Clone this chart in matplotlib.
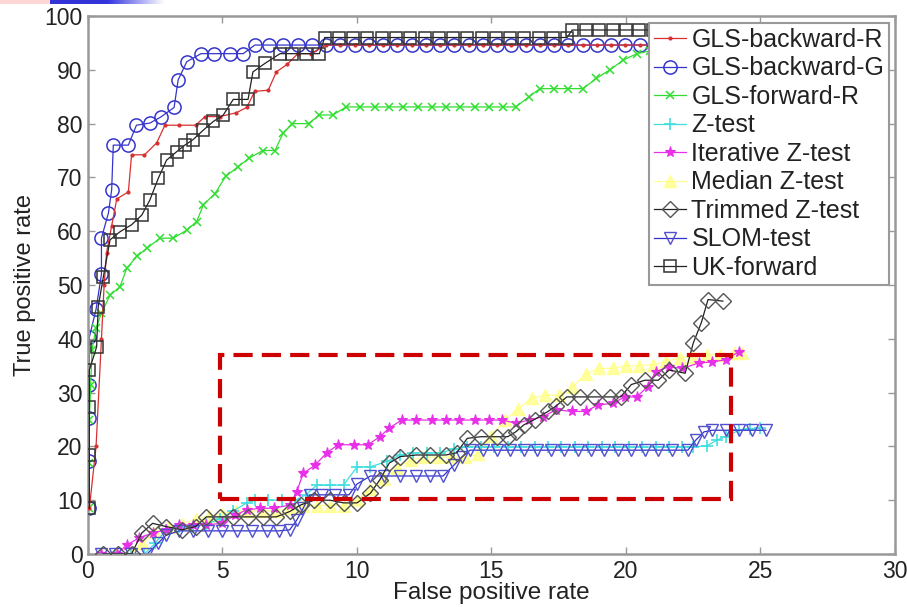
import numpy as np
import matplotlib
matplotlib.use('Agg')
import matplotlib.pyplot as plt
from matplotlib.patches import Rectangle

# ==========================================================
# Data (false / true positive rate, %)
# ==========================================================

gls_back_g_x = [0.02, 0.02, 0.02, 0.05, 0.05, 0.3, 0.5, 0.5, 0.76, 0.88, 0.94,
                1.5, 1.8, 2.3, 2.7, 3.2, 3.35, 3.67, 4.2, 4.7, 5.28, 5.77,
                6.2, 6.73, 7.26, 7.79, 8.32, 8.85, 9.38, 9.91, 10.44, 10.97,
                11.5, 12.03, 12.56, 13.09, 13.62, 14.15, 14.68, 15.21, 15.74,
                16.27, 16.8, 17.33, 17.86, 18.39, 18.92, 19.45, 19.98, 20.51,
                21.04, 21.57, 22.1]
gls_back_g_y = [8.5, 17.2, 25.3, 31.5, 40.3, 45.5, 52, 58.7, 63.4, 67.7, 76,
                76, 79.7, 80.1, 81.2, 83, 88.1, 91.5, 93, 93, 93, 93,
                94.6, 94.6, 94.6, 94.6, 94.6, 94.6, 94.6, 94.6, 94.6, 94.6,
                94.6, 94.6, 94.6, 94.6, 94.6, 94.6, 94.6, 94.6, 94.6,
                94.6, 94.6, 94.6, 94.6, 94.6, 94.6, 94.6, 94.6, 94.6,
                94.6, 94.6, 94.6]

gls_back_r_x = [0.05, 0.3, 0.5, 0.6, 0.69, 0.88, 1.07, 1.5, 1.62, 2.1, 2.55,
                2.86, 3.4, 4.0, 4.35, 4.9, 5.5, 5.9, 6.2, 6.7, 7.0, 7.4, 7.8,
                8.3, 8.85, 9.38, 9.91, 10.44, 10.97, 11.5, 12.03, 12.56,
                13.09, 13.62, 14.15, 14.68, 15.21, 15.74, 16.27, 16.8, 17.33,
                17.86, 18.39, 18.92, 19.45, 19.98, 20.51, 21.04, 21.57, 22.1]
gls_back_r_y = [8.5, 20, 40, 50, 56, 61, 66, 67.3, 74.2, 74.2, 76.4,
                79.7, 79.7, 79.7, 81.3, 81.3, 82, 83, 86, 86.2, 89.6, 91, 93,
                93, 94.6, 94.6, 94.6, 94.6, 94.6, 94.6, 94.6, 94.6,
                94.6, 94.6, 94.6, 94.6, 94.6, 94.6, 94.6, 94.6, 94.6,
                94.6, 94.6, 94.6, 94.6, 94.6, 94.6, 94.6, 94.6, 94.6]

gls_fwd_r_x = [0.02, 0.05, 0.05, 0.1, 0.15, 0.3, 0.5, 0.82, 1.19, 1.44, 1.81,
               2.18, 2.68, 3.17, 3.67, 4.04, 4.29, 4.72, 5.12, 5.58, 6.0, 6.5,
               6.95, 7.25, 7.6, 8.2, 8.6, 9.1, 9.6, 10.13, 10.66, 11.19,
               11.72, 12.25, 12.78, 13.31, 13.84, 14.37, 14.9, 15.43, 15.9,
               16.4, 16.8, 17.33, 17.86, 18.4, 18.9, 19.4, 19.9, 20.4, 20.9,
               21.4, 22.0]
gls_fwd_r_y = [8.5, 17, 25, 31.5, 38, 42, 44.8, 48.1, 49.7, 53.1, 55.3,
               56.8, 58.7, 58.7, 60.2, 61.8, 64.9, 67, 70.2, 72, 73.6, 75,
               75, 78.2, 80, 80, 81.6, 81.6, 83.1, 83.1, 83.1, 83.1,
               83.1, 83.1, 83.1, 83.1, 83.1, 83.1, 83.1, 83.1, 83.1,
               85, 86.5, 86.5, 86.5, 86.5, 88.4, 90, 91.8, 93, 93.5,
               94, 94.5]

z_test_x = [0.5, 1.0, 1.6, 2.1, 2.5, 2.9, 3.4, 3.9, 4.4, 4.9, 5.4, 5.9, 6.2,
            6.7, 7.2, 7.7, 8.1, 8.5, 9.0, 9.5, 10.0, 10.5, 11.1, 11.6, 12.1,
            12.6, 13.1, 13.6, 14.1, 14.6, 15.1, 15.6, 16.1, 16.6, 17.1, 17.6,
            18.1, 18.6, 19.1, 19.6, 20.1, 20.6, 21.1, 21.6, 22.1, 22.5, 23.0,
            23.4, 23.7, 24.2, 24.6, 25.0]
z_test_y = [0, 0, 0, 0, 2, 4.5, 5, 5, 5.5, 6.5, 8, 9.5, 10,
            10, 10, 10, 11, 12.8, 12.8, 12.8, 16.2, 16.2, 17.2, 18.4, 18.8,
            18.8, 18.8, 19.5, 19.9, 19.9, 19.9, 19.9, 19.9, 19.9, 19.9, 19.9,
            19.9, 19.9, 19.9, 19.9, 19.9, 19.9, 19.9, 19.9, 19.9, 19.9, 20.1,
            21.2, 21.8, 23, 23.2, 23.4]

iter_z_x = [0.5, 1.07, 1.45, 1.9, 2.4, 2.9, 3.4, 3.9, 4.4, 4.97, 5.46, 5.9,
            6.4, 6.9, 7.5, 7.76, 8.0, 8.44, 8.87, 9.3, 9.87, 10.4, 10.85,
            11.2, 11.66, 12.2, 12.8, 13.3, 13.8, 14.4, 14.9, 15.4, 15.9,
            16.4, 16.9, 17.4, 18.0, 18.5, 18.96, 19.5, 19.96, 20.4, 20.8,
            21.1, 21.6, 22.1, 22.7, 23.2, 23.7, 24.2]
iter_z_y = [0, 0, 1.7, 3, 3.9, 4.5, 5.4, 5.4, 5.4, 5.7, 7.2, 8.2,
            8.5, 8.5, 9.1, 11.6, 15, 16.5, 18.8, 20.3, 20.3, 20.3, 21.8,
            23.4, 24.9, 24.9, 24.9, 24.9, 24.9, 24.9, 24.9, 24.9, 24.3,
            24.9, 25.5, 26.8, 26.5, 26.5, 27.7, 28, 29.2, 29.2, 31.1,
            33.9, 34.8, 34.5, 35.5, 35.7, 36.1, 37.6]

median_z_x = [0.5, 1.0, 1.6, 2.0, 2.5, 3.0, 3.5, 4.0, 4.5, 5.0, 5.5, 6.0,
              6.5, 7.0, 7.5, 8.0, 8.5, 9.0, 9.5, 10.0, 10.5, 11.0, 11.5,
              12.0, 12.5, 13.0, 13.5, 14.0, 14.5, 15.0, 15.5, 16.0, 16.5,
              17.0, 17.5, 18.0, 18.5, 19.0, 19.5, 20.0, 20.5, 21.0, 21.5,
              22.0, 22.5, 23.0, 23.5, 24.0, 24.3]
median_z_y = [0, 0, 0, 2, 4, 5, 5.5, 6.5, 7, 7.5, 8, 8,
              8, 8, 8.5, 9, 9, 9, 9, 10, 12, 14, 16,
              17.5, 18, 18, 18, 18, 18.5, 22, 25, 27, 29,
              29.5, 29.5, 31, 33.5, 34.5, 34.5, 35, 35, 35.2, 35.8,
              36.5, 36.7, 37, 37, 37.3, 37.3]

trim_z_x = [0.55, 1.1, 1.62, 2.0, 2.4, 2.9, 3.5, 4.0, 4.4, 4.9, 5.4, 5.95,
            6.5, 7.0, 7.5, 7.9, 8.4, 9.0, 9.5, 10.0, 10.5, 10.85, 11.2, 11.6,
            12.2, 12.7, 13.3, 13.7, 14.1, 14.6, 15.2, 15.6, 15.9, 16.2,
            16.6, 17.1, 17.4, 17.8, 18.3, 18.8, 19.4, 19.8, 20.2, 20.7,
            21.2, 21.6, 22.2, 22.5, 22.8, 23.05, 23.6]
trim_z_y = [0, 0, 0, 3.9, 5.7, 5.1, 4.5, 5.1, 6.9, 6.9, 6.9, 6.9,
            6.9, 6.9, 7.9, 9.1, 10, 10, 9.5, 9.5, 11.3, 13.8, 16.9, 18.1,
            18.4, 18.4, 18.4, 18.8, 21.5, 21.8, 21.8, 21.8, 22.7, 24,
            25, 26.5, 27.5, 29.2, 29.2, 29.2, 29.2, 29.2, 31.5, 32.3,
            32.3, 34.2, 33.6, 39.2, 43, 47.3, 47]

slom_x = [0.5, 1.0, 1.6, 2.2, 2.6, 2.9, 3.4, 3.9, 4.46, 4.98, 5.54, 6.1,
          6.65, 7.1, 7.5, 7.76, 8.0, 8.25, 8.7, 9.2, 9.7, 10.0, 10.5, 11.0,
          11.6, 12.2, 12.7, 13.2, 13.6, 13.9, 14.2, 14.7, 15.2, 15.7, 16.2,
          16.7, 17.2, 17.7, 18.2, 18.7, 19.2, 19.7, 20.2, 20.7, 21.2, 21.7,
          22.3, 22.6, 22.9, 23.2, 23.7, 24.2, 24.7, 25.2]
slom_y = [0, 0, 0, 0, 2, 3.5, 4.3, 4.3, 4.3, 4.3, 4.3, 4.3,
          4.3, 4.3, 4.5, 6.3, 8.5, 11, 11, 11, 11, 13, 14.5, 14.5,
          14.5, 14.5, 14.5, 14.5, 16.5, 18, 19.3, 19.3, 19.3, 19.3, 19.3,
          19.3, 19.3, 19.3, 19.3, 19.3, 19.3, 19.3, 19.3, 19.3, 19.3, 19.3,
          19.3, 21.2, 22.7, 23, 23, 23, 23, 23]

uk_fwd_x = [0.05, 0.05, 0.05, 0.05, 0.32, 0.38, 0.57, 0.82, 1.19, 1.62, 2.0,
            2.3, 2.61, 2.92, 3.3, 3.6, 3.9, 4.29, 4.66, 5.03, 5.4, 5.95,
            6.13, 6.58, 7.14, 7.6, 8.1, 8.6, 8.8, 9.33, 9.86, 10.39, 10.92,
            11.45, 11.98, 12.51, 13.04, 13.57, 14.1, 14.63, 15.16, 15.69,
            16.22, 16.75, 17.28, 17.81, 18.0, 18.5, 19.0, 19.5, 20.0, 20.5,
            21.0, 21.5]
uk_fwd_y = [8.5, 18.4, 27.3, 34.2, 38.5, 46, 51.5, 58.4, 59.9, 61.2, 63,
            65.8, 69.8, 73.2, 74.8, 76, 77, 78.8, 80.4, 81.6, 84.5, 84.5,
            89.6, 91.2, 93, 93, 93, 93, 96, 96, 96, 96, 96,
            96, 96, 96, 96, 96, 96, 96, 96, 96,
            96, 96, 96, 96, 97.4, 97.4, 97.4, 97.4, 97.4, 97.4,
            97.4, 97.4]

labels = ['GLS-backward-R', 'GLS-backward-G', 'GLS-forward-R', 'Z-test',
          'Iterative Z-test', 'Median Z-test', 'Trimmed Z-test', 'SLOM-test',
          'UK-forward']

# highlighted region (dashed box)
box_x0, box_x1 = 4.9, 23.9
box_y0, box_y1 = 10.2, 37.0

# ==========================================================
# Figure
# ==========================================================

plt.rcParams['font.family'] = ['Liberation Sans', 'DejaVu Sans']

fig = plt.figure(figsize=(9.07, 6.07), dpi=100)
ax = fig.add_axes([88 / 907, 1 - 554 / 607, 807 / 907, 538 / 607])

# slide decoration at the top-left corner
fig.add_artist(Rectangle((0, 1 - 4 / 607), 50 / 907, 4 / 607,
                         transform=fig.transFigure, color='#ffd6d6', lw=0))
bar = fig.add_axes([50 / 907, 1 - 4 / 607, 115 / 907, 4 / 607])
grad = np.ones((1, 100, 3))
grad[0, :, 0] = np.clip(np.linspace(-0.6, 1.0, 100), 0.2, 1.0)
grad[0, :, 1] = np.clip(np.linspace(-0.6, 1.0, 100), 0.2, 1.0)
grad[0, :, 2] = 0.85 + 0.15 * np.clip(np.linspace(-0.6, 1.0, 100), 0, 1)
bar.imshow(grad, aspect='auto')
bar.axis('off')

lw = 0.9

ax.plot(gls_back_r_x, gls_back_r_y, '-', color='#d83030', lw=lw,
        marker='.', ms=4, label=labels[0], zorder=3)
ax.plot(gls_back_g_x, gls_back_g_y, '-', color='#3535cc', lw=lw,
        marker='o', ms=9.5, mfc='none', mew=1.1, label=labels[1], zorder=2)
ax.plot(gls_fwd_r_x, gls_fwd_r_y, '-', color='#30dd30', lw=lw,
        marker='x', ms=6, mew=1.1, label=labels[2], zorder=2)
ax.plot(z_test_x, z_test_y, '-', color='#40dede', lw=lw,
        marker='+', ms=8, mew=1.2, label=labels[3], zorder=2)
ax.plot(iter_z_x, iter_z_y, '-', color='#e830e8', lw=lw,
        marker='*', ms=8, mew=0.8, label=labels[4], zorder=2)
ax.plot(median_z_x, median_z_y, '-', color='#ffff70', lw=lw,
        marker='^', ms=8, mfc='#ffff80', mec='#ffff80', alpha=0.75,
        label=labels[5], zorder=1)
ax.plot(trim_z_x, trim_z_y, '-', color='#222222', lw=lw,
        marker='D', ms=8, mfc='none', mec='#555555', mew=1.0,
        label=labels[6], zorder=3)
ax.plot(slom_x, slom_y, '-', color='#3030cc', lw=lw,
        marker='v', ms=9, mfc='none', mec='#5050d0', mew=1.0,
        label=labels[7], zorder=2)
ax.plot(uk_fwd_x, uk_fwd_y, '-', color='#222222', lw=lw,
        marker='s', ms=8, mfc='none', mec='#333333', mew=1.1,
        label=labels[8], zorder=3)

# dashed highlight box
ax.add_patch(Rectangle((box_x0, box_y0), box_x1 - box_x0, box_y1 - box_y0,
                       fill=False, ec='#cc0000', lw=3,
                       linestyle=(0, (4.6, 2.2)), zorder=5, clip_on=False))

# ==========================================================
# Axes formatting
# ==========================================================

ax.set_xlim(0, 30)
ax.set_ylim(0, 100)
ax.set_xticks(np.arange(0, 31, 5))
ax.set_yticks(np.arange(0, 101, 10))

for s in ax.spines.values():
    s.set_color('#999999')
    s.set_linewidth(1.8)

ax.tick_params(direction='in', length=5, width=1, color='#999999',
               top=True, right=True, labelsize=16.5, labelcolor='#222222',
               pad=4)

ax.set_xlabel('False positive rate', fontsize=17.5, color='#222222',
              va='center')
ax.set_ylabel('True positive rate', fontsize=17, color='#222222')
ax.yaxis.set_label_coords(-0.064, 0.5)
ax.xaxis.set_label_coords(0.4994, -0.073)

leg = ax.legend(loc='upper right', bbox_to_anchor=(0.993, 0.987),
                borderaxespad=0, fontsize=18, handlelength=1.3,
                handletextpad=0.2, labelspacing=0.18, borderpad=0.2,
                fancybox=False, framealpha=1, edgecolor='#999999')
leg.get_frame().set_linewidth(1.5)
for t in leg.get_texts():
    t.set_color('#222222')

fig.savefig('out.png', dpi=100)
